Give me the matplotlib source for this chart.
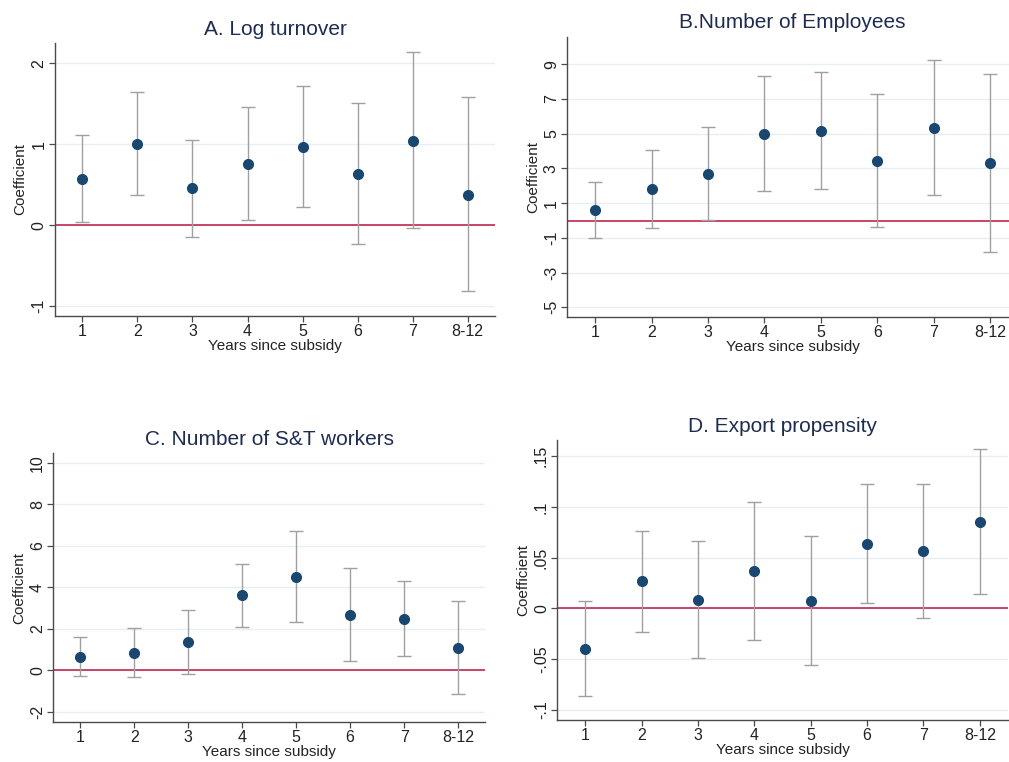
import matplotlib
matplotlib.use("Agg")
import matplotlib.pyplot as plt

plt.rcParams['font.family'] = ['Liberation Sans', 'DejaVu Sans']

years = ["1", "2", "3", "4", "5", "6", "7", "8-12"]

# A. Log turnover
coef_a = [0.574, 1.006, 0.455, 0.760, 0.969, 0.636, 1.043, 0.377]
hi_a = [1.12, 1.65, 1.047, 1.463, 1.72, 1.504, 2.14, 1.58]
lo_a = [0.035, 0.37, -0.146, 0.064, 0.224, -0.237, -0.035, -0.81]

# B. Number of employees
coef_b = [0.60, 1.83, 2.70, 4.98, 5.14, 3.43, 5.35, 3.31]
hi_b = [2.20, 4.06, 5.39, 8.30, 8.54, 7.27, 9.26, 8.46]
lo_b = [-1.01, -0.43, 0.03, 1.68, 1.80, -0.37, 1.45, -1.80]

# C. Number of S&T workers
coef_c = [0.66, 0.82, 1.37, 3.60, 4.51, 2.68, 2.47, 1.09]
hi_c = [1.62, 2.02, 2.91, 5.14, 6.73, 4.92, 4.32, 3.33]
lo_c = [-0.29, -0.34, -0.18, 2.07, 2.30, 0.45, 0.67, -1.16]

# D. Export propensity
coef_d = [-0.040, 0.0268, 0.0087, 0.037, 0.0077, 0.0636, 0.0563, 0.0852]
hi_d = [0.0074, 0.0767, 0.0665, 0.1053, 0.0715, 0.1224, 0.1224, 0.157]
lo_d = [-0.086, -0.0228, -0.0488, -0.031, -0.0557, 0.0054, -0.0097, 0.0143]

panels = [
    ("A. Log turnover", coef_a, hi_a, lo_a,
     [-1, 0, 1, 2], ["-1", "0", "1", "2"], (-1.12, 2.25),
     [0.0545, 0.5853, 0.4361, 0.3583]),
    ("B.Number of Employees", coef_b, hi_b, lo_b,
     [-5, -3, -1, 1, 3, 5, 7, 9], ["-5", "-3", "-1", "1", "3", "5", "7", "9"],
     (-5.54, 10.59), [0.5622, 0.5844, 0.4468, 0.3674]),
    ("C. Number of S&T workers", coef_c, hi_c, lo_c,
     [-2, 0, 2, 4, 6, 8, 10], ["-2", "0", "2", "4", "6", "8", "10"],
     (-2.48, 10.45), [0.0528, 0.0529, 0.4279, 0.3522]),
    ("D. Export propensity", coef_d, hi_d, lo_d,
     [-0.1, -0.05, 0, 0.05, 0.1, 0.15], ["-.1", "-.05", "0", ".05", ".1", ".15"],
     (-0.110, 0.166), [0.5523, 0.0551, 0.4467, 0.3675]),
]

navy = "#1a476f"
title_col = "#1e2d4f"
fig = plt.figure(figsize=(10.09, 7.62), dpi=100)

for title, coef, hi, lo, yt, ytl, ylim, pos in panels:
    ax = fig.add_axes(pos)
    x = list(range(1, len(years) + 1))
    yerr = [[c - l for c, l in zip(coef, lo)], [h - c for c, h in zip(coef, hi)]]
    for t in yt:
        ax.axhline(t, color="#e6eff1", lw=1.0, zorder=0)
    ax.axhline(0, color="#c4375b", lw=1.3, zorder=1)
    ax.errorbar(x, coef, yerr=yerr, fmt="none", ecolor="#a0a0a0", elinewidth=1.0,
                capsize=5, capthick=1.0, zorder=2)
    ax.plot(x, coef, "o", color=navy, ms=7, zorder=3)
    ax.set_xlim(0.5, 8.5)
    ax.set_ylim(*ylim)
    ax.set_xticks(x)
    ax.set_xticklabels(years)
    ax.set_yticks(yt)
    ax.set_yticklabels(ytl, rotation=90, va="center")
    for s in ["top", "right"]:
        ax.spines[s].set_visible(False)
    for s in ["left", "bottom"]:
        ax.spines[s].set_color("#4a4a4a")
        ax.spines[s].set_linewidth(1.0)
    ax.tick_params(axis="both", colors="#4a4a4a", labelcolor="#222222",
                   labelsize=11.5, length=4, width=0.9, pad=2)
    ax.set_xlabel("Years since subsidy", fontsize=11, color="#222222", labelpad=0)
    ax.set_ylabel("Coefficient", fontsize=11, color="#222222", labelpad=3)
    ax.set_title(title, fontsize=15, color=title_col, pad=6)

fig.savefig("out.png", dpi=100)
